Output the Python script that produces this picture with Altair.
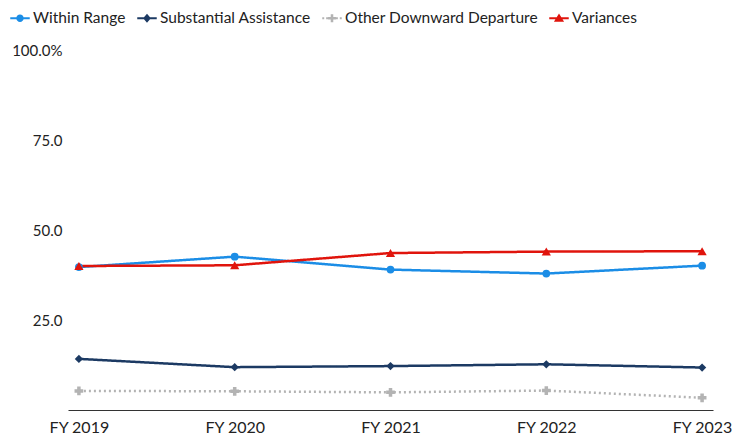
import altair as alt
import pandas as pd

years = ["FY 2019", "FY 2020", "FY 2021", "FY 2022", "FY 2023"]
series_names = ["Within Range", "Substantial Assistance", "Other Downward Departure", "Variances"]
within_range = [39.7, 42.6, 39.0, 37.9, 40.1]
substantial = [14.2, 11.9, 12.2, 12.7, 11.8]
other_downward = [5.3, 5.2, 4.9, 5.4, 3.4]
variances = [40.0, 40.2, 43.6, 44.0, 44.1]

colors = ["#1b8de6", "#1c3a63", "#b3b3b3", "#e0140c"]
marker_shapes = ["circle", "diamond", "cross", "triangle-up"]
marker_sizes = [60, 85, 85, 115]
dashes = [[1, 0], [1, 0], [2, 3], [1, 0]]

legend_paths = [
    "M-1,-0.11H1V0.11H-1Z M-0.38,0A0.38,0.38 0 1,1 0.38,0A0.38,0.38 0 1,1 -0.38,0Z",
    "M-1,-0.11H1V0.11H-1Z M0,-0.45L0.4,0L0,0.45L-0.4,0Z",
    "M-1,-0.1H-0.8V0.1H-1Z M-0.6,-0.1H-0.4V0.1H-0.6Z M0.4,-0.1H0.6V0.1H0.4Z M0.8,-0.1H1V0.1H0.8Z "
    "M-0.4,-0.13H-0.13V-0.4H0.13V-0.13H0.4V0.13H0.13V0.4H-0.13V0.13H-0.4Z",
    "M-1,-0.11H1V0.11H-1Z M0,-0.5L0.52,0.35L-0.52,0.35Z",
]

rows = []
for name, vals in zip(series_names, [within_range, substantial, other_downward, variances]):
    for y, v in zip(years, vals):
        rows.append({"year": y, "series": name, "value": v})
df = pd.DataFrame(rows)

FONT = "Lato"

x_enc = alt.X("year:N", sort=years, title=None,
              scale=alt.Scale(type="point", padding=0.07),
              axis=alt.Axis(labelAngle=0, ticks=False, domain=True, domainColor="#333333",
                            domainWidth=1.2, labelFontSize=16, labelColor="#222222",
                            labelFont=FONT, labelPadding=9, grid=False))
y_enc = alt.Y("value:Q", title=None,
              scale=alt.Scale(domain=[0, 100], nice=False),
              axis=alt.Axis(values=[0, 25, 50, 75, 100], domain=False, ticks=False, grid=False,
                            labelFontSize=15, labelColor="#222222", labelFont=FONT, labelPadding=6,
                            labelExpr="datum.value == 100 ? '100.0%' : (datum.value == 0 ? '' : format(datum.value, '.1f'))"))

base = alt.Chart(df)

lines = base.mark_line(strokeWidth=2.5).encode(
    x=x_enc, y=y_enc,
    color=alt.Color("series:N", scale=alt.Scale(domain=series_names, range=colors), legend=None),
    strokeDash=alt.StrokeDash("series:N", scale=alt.Scale(domain=series_names, range=dashes), legend=None),
    detail="series:N",
)

points = base.mark_point(filled=True, opacity=1).encode(
    x=x_enc, y=y_enc,
    color=alt.Color("series:N", scale=alt.Scale(domain=series_names, range=colors), legend=None),
    shape=alt.Shape("series:N", scale=alt.Scale(domain=series_names, range=marker_shapes), legend=None),
    size=alt.Size("series:N", scale=alt.Scale(domain=series_names, range=marker_sizes), legend=None),
)

legend_props = dict(title=None, orient="none", legendX=-58, legendY=-42,
                    direction="horizontal", columns=4, columnPadding=11,
                    symbolSize=380, symbolStrokeWidth=0, labelOffset=3, labelLimit=400,
                    labelFontSize=15.5, labelFont=FONT, labelColor="#222222",
                    symbolOpacity=1)

legend_layer = base.mark_point(filled=True, opacity=0).encode(
    x=x_enc, y=y_enc,
    color=alt.Color("series:N", scale=alt.Scale(domain=series_names, range=colors),
                    legend=alt.Legend(**legend_props)),
    shape=alt.Shape("series:N", scale=alt.Scale(domain=series_names, range=legend_paths),
                    legend=alt.Legend(**legend_props)),
)

chart = alt.layer(lines, points, legend_layer).resolve_scale(
    color="independent", shape="independent", size="independent", strokeDash="independent"
).properties(
    width=645, height=360,
    padding={"left": 60, "top": 42, "right": 25, "bottom": 27},
    autosize=alt.AutoSizeParams(type="none"),
).configure(font=FONT).configure_view(strokeWidth=0, stroke="transparent")

chart.save("out.html", embed_options={"renderer": "svg", "actions": False})
